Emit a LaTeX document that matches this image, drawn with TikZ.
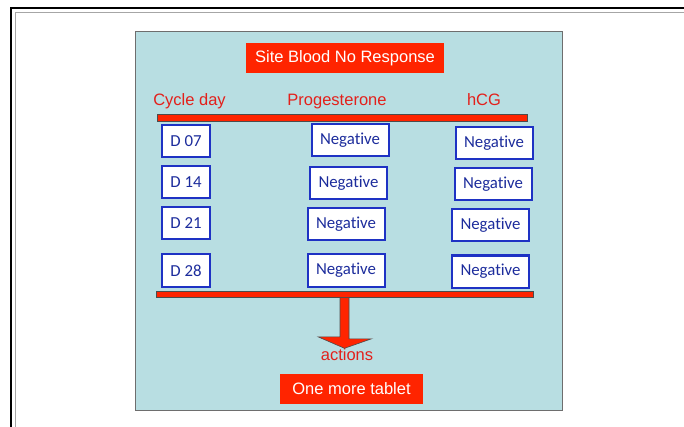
\documentclass[tikz,border=0pt]{standalone}
\usepackage{fontspec}
\setmainfont{Liberation Sans}
\newfontfamily\cellfont[Ligatures=NoCommon]{Carlito}
\usetikzlibrary{calc}
\definecolor{panelblue}{HTML}{B8DEE2}
\definecolor{panelrule}{HTML}{6E6E6E}
\definecolor{alarm}{HTML}{FF2400}
\definecolor{headred}{HTML}{E3201B}
\definecolor{cellblue}{HTML}{1E32C4}
\definecolor{celltext}{HTML}{1C2C9C}

\begin{document}
\begin{tikzpicture}[
  x=1pt,y=-1pt,
  font=\fontsize{16.5}{19}\selectfont,
  banner/.style={fill=alarm,text=white,inner sep=0pt},
  colhead/.style={text=headred,anchor=base,inner sep=0pt},
  bar/.style={draw=black!70,fill=alarm,line width=0.6pt,inner sep=0pt},
  cell/.style={draw=cellblue,line width=2pt,fill=white,text=celltext,
    font=\cellfont\fontsize{16.8}{19}\selectfont,inner sep=0pt,
    minimum height=32pt},
  daycell/.style={cell,minimum width=48pt},
  negcell/.style={cell,minimum width=77pt}
]
  \useasboundingbox (0,0) rectangle (684,427);
  \fill[white] (0,0) rectangle (684,427);

  % slide frame and panel
  \draw[black,line width=2pt] (11,427) -- (11,8) -- (684,8);
  \draw[black!35,line width=0.6pt] (15,427) -- (15,12) -- (684,12);
  \node[draw=panelrule,fill=panelblue,line width=1pt,inner sep=0pt,
    minimum width=427pt,minimum height=378pt] (panel) at (348.5,221) {};

  \node[banner,minimum width=198pt,minimum height=30pt] (title) at (345,58)
    {Site Blood No Response};

  \node[colhead] (hday) at (189.5,106) {Cycle day};
  \node[colhead] (hprog) at (337,106) {Progesterone};
  \node[colhead] (hhcg) at (484,106) {hCG};
  \node[bar,minimum width=370pt,minimum height=7pt] (topbar) at (342,117.5) {};

  \foreach \i/\d/\y/\px/\py/\hx/\hy in {1/07/141/350/140.5/494/143,
      2/14/182/348.5/183/493/184, 3/21/223/346/224/490.5/225,
      4/28/270.5/346/270.5/490.5/271.5}
  {
    \node[daycell] (day\i) at (186,\y) {D \d};
    \node[negcell] (prog\i) at (\px,\py) {Negative};
    \node[negcell] (hcg\i) at (\hx,\hy) {Negative};
  }

  \node[bar,minimum width=377pt,minimum height=6pt] (botbar) at (344.5,294.5) {};
  \node[colhead] (act) at (347,360) {actions};
  \coordinate (tip) at ($(botbar.south)+(0,50.5)$);
  \draw[bar,line join=miter]
    ($(botbar.south)+(-4.5,0)$) -- ++(0,39) -- ++(-22,0) -- (tip)
    -- ++(27,-9.5) -- ++(-22.5,0) -- ($(botbar.south)+(4.5,0)$);

  \node[banner,minimum width=143pt,minimum height=30pt] (tablet) at (351.5,389)
    {One more tablet\hspace{8pt}};
\end{tikzpicture}
\end{document}
